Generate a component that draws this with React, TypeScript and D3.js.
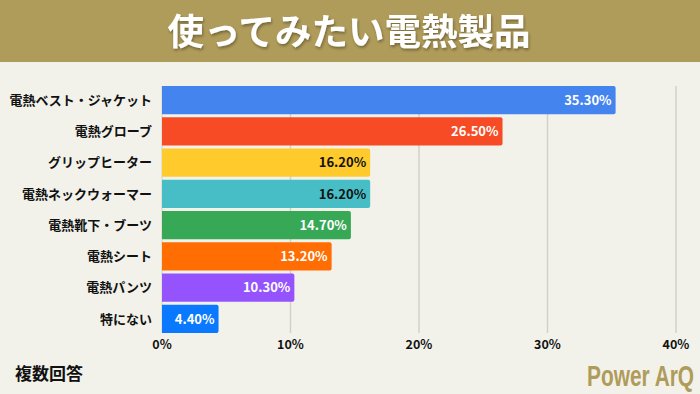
import React from "react";
import * as d3 from "d3";

const categories = ["電熱ベスト・ジャケット", "電熱グローブ", "グリップヒーター", "電熱ネックウォーマー", "電熱靴下・ブーツ", "電熱シート", "電熱パンツ", "特にない"];
const values = [35.3, 26.5, 16.2, 16.2, 14.7, 13.2, 10.3, 4.4];
const barColors = ["#4484ee", "#f64b25", "#ffca2c", "#47bec6", "#37a856", "#ff6d03", "#9453fd", "#0a78ff"];
const labelColors = ["#fff", "#fff", "#111", "#111", "#fff", "#fff", "#fff", "#fff"];
const ticks = [0, 10, 20, 30, 40];
const title = "使ってみたい電熱製品";
const note = "複数回答";
const brand = "Power ArQ";

const W = 700, H = 394;
const FONT = "'Noto Sans CJK JP', 'Noto Sans', sans-serif";

export default function App() {
  const x = d3.scaleLinear().domain([0, 40]).range([162, 676]);
  const y = d3.scaleBand<string>().domain(categories).range([84.5, 334.5]).paddingInner(0.1).paddingOuter(0.05);
  const bw = y.bandwidth();
  const r = 2;
  const barPath = (v: number, top: number) => {
    const x0 = x(0), x1 = x(v);
    return `M${x0},${top}H${x1 - r}Q${x1},${top} ${x1},${top + r}V${top + bw - r}Q${x1},${top + bw} ${x1 - r},${top + bw}H${x0}Z`;
  };
  return (
    <svg width={W} height={H} style={{ position: "absolute", left: 0, top: 0, display: "block" }} fontFamily={FONT}>
      <defs>
        <filter id="sh" x="-10%" y="-30%" width="120%" height="160%">
          <feDropShadow dx="1" dy="2" stdDeviation="1.5" floodColor="#000" floodOpacity="0.35" />
        </filter>
      </defs>
      <rect width={W} height={H} fill="#f2f2ea" />
      <rect width={W} height={62} fill="#b09c5a" />
      <text x={W / 2 - 1} y={45} textAnchor="middle" fontSize={36.5} fontWeight={700} fill="#fff" filter="url(#sh)">{title}</text>
      {ticks.slice(1).map(t => (
        <line key={t} x1={x(t)} x2={x(t)} y1={86} y2={333} stroke="#d2d2c8" strokeWidth={1.5} />
      ))}
      <line x1={x(0)} x2={x(0)} y1={86} y2={333} stroke="#d2d2c8" strokeWidth={1} />
      {categories.map((c, i) => {
        const top = y(c)!;
        return (
          <g key={c}>
            <path d={barPath(values[i], top)} fill={barColors[i]} />
            <text x={x(values[i]) - 4} y={top + bw / 2} dy="0.36em" textAnchor="end" fontSize={13} fontWeight={700} fill={labelColors[i]}>{values[i].toFixed(2)}%</text>
            <text x={152} y={top + bw / 2} dy="0.36em" textAnchor="end" fontSize={13} fontWeight={700} fill="#111">{c}</text>
          </g>
        );
      })}
      {ticks.map(t => (
        <text key={t} x={x(t)} y={349} textAnchor="middle" fontSize={12.5} fontWeight={700} fill="#111">{t}%</text>
      ))}
      <text x={15} y={380} fontSize={17} fontWeight={700} fill="#111">{note}</text>
      <g transform="translate(587,386) scale(0.72,1)">
        <text x={0} y={0} fontSize={29} fontWeight={700} fill="#b09c5a" fontFamily="'Liberation Sans', 'DejaVu Sans', sans-serif">{brand}</text>
      </g>
    </svg>
  );
}
